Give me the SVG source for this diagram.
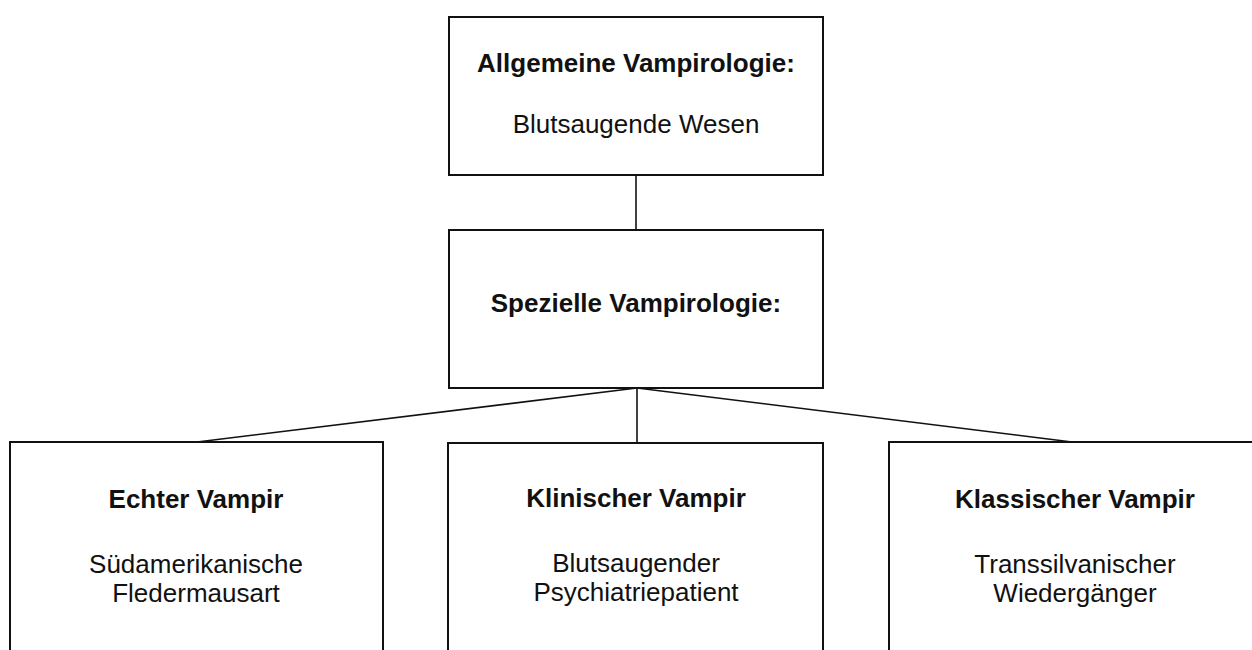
<svg xmlns="http://www.w3.org/2000/svg" width="1252" height="650" viewBox="0 0 1252 650">
<style>
.box{fill:#fff;stroke:#111;stroke-width:2}
.con{stroke:#111;stroke-width:1.6;fill:none}
text{font-family:"Liberation Sans",Arial,sans-serif;font-size:26px;fill:#111;text-anchor:middle}
.b{font-weight:bold}
</style>
<rect width="1252" height="650" fill="#fff"/>
<g id="connectors">
<line class="con" x1="636" y1="175" x2="636" y2="230"/>
<line class="con" x1="637" y1="388" x2="637" y2="443"/>
<line class="con" x1="637" y1="388" x2="197" y2="442"/>
<line class="con" x1="637" y1="388" x2="1072" y2="442"/>
</g>
<g id="allgemeine">
<rect class="box" x="449" y="17" width="374" height="158"/>
<text class="b" x="636" y="72">Allgemeine Vampirologie:</text>
<text x="636" y="133">Blutsaugende Wesen</text>
</g>
<g id="spezielle">
<rect class="box" x="449" y="230" width="374" height="158"/>
<text class="b" x="636" y="312">Spezielle Vampirologie:</text>
</g>
<g id="echter">
<rect class="box" x="10" y="442" width="373" height="230"/>
<text class="b" x="196" y="508">Echter Vampir</text>
<text x="196" y="573">Südamerikanische</text>
<text x="196" y="602">Fledermausart</text>
</g>
<g id="klinischer">
<rect class="box" x="448" y="443" width="375" height="230"/>
<text class="b" x="636" y="507">Klinischer Vampir</text>
<text x="636" y="572">Blutsaugender</text>
<text x="636" y="601">Psychiatriepatient</text>
</g>
<g id="klassischer">
<rect class="box" x="889" y="442" width="374" height="230"/>
<text class="b" x="1075" y="508">Klassischer Vampir</text>
<text x="1075" y="573">Transsilvanischer</text>
<text x="1075" y="602">Wiedergänger</text>
</g>
</svg>
